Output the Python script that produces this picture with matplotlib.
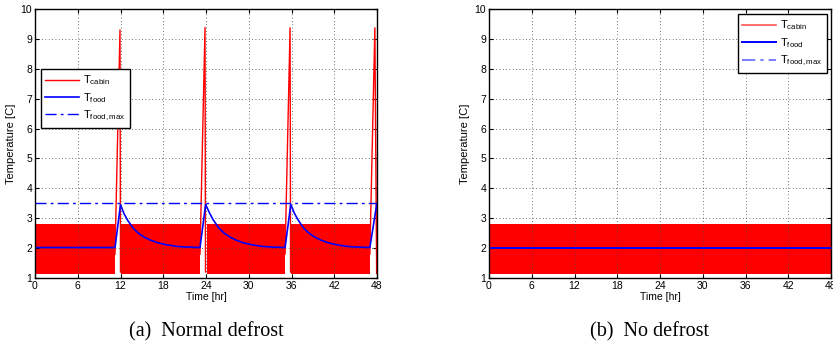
import numpy as np
import matplotlib
matplotlib.use('Agg')
import matplotlib.pyplot as plt

plt.rcParams['font.family'] = 'Liberation Sans'
plt.rcParams['mathtext.default'] = 'regular'

# cabin temperature: compressor cycling band (min/max) and defrost spikes
band_lo, band_hi = 1.15, 2.8
band_a_start = [0.0, 12.03, 24.1, 35.95]
band_a_end = [11.23, 23.16, 35.1, 47.0]
spike_t = [[11.23, 11.93, 12.0], [23.16, 23.86, 23.93], [35.1, 35.8, 35.87], [47.0, 47.7, 47.95]]
spike_T = [[1.8, 9.3, 1.2], [1.8, 9.38, 1.2], [1.8, 9.37, 1.2], [1.8, 9.37, 1.15]]

# food temperature, normal defrost
food_t = [0, 11.23, 12.0, 12.5, 13.0, 13.8, 14.5, 15.3, 16.2, 17.2, 18.5, 19.8, 20.9, 22.0, 23.16,
          23.95, 24.5, 25.0, 25.8, 26.5, 27.3, 28.2, 29.2, 30.5, 31.8, 32.9, 34.0, 35.1,
          35.9, 36.4, 36.9, 37.7, 38.4, 39.2, 40.1, 41.1, 42.4, 43.7, 44.8, 45.9, 47.0, 47.95]
food_T = [2.02, 2.02, 3.45, 3.15, 2.93, 2.66, 2.5, 2.37, 2.27, 2.18, 2.11, 2.06, 2.04, 2.03, 2.02,
          3.46, 3.17, 2.95, 2.67, 2.51, 2.38, 2.27, 2.18, 2.11, 2.06, 2.04, 2.03, 2.02,
          3.46, 3.17, 2.95, 2.67, 2.51, 2.38, 2.27, 2.18, 2.11, 2.06, 2.04, 2.03, 2.02, 3.45]
food_max = 3.5

# no defrost
band_b_start = [0.0]
band_b_end = [48.0]
food_b_t = [0, 48]
food_b_T = [2.02, 2.02]

fig = plt.figure(figsize=(8.33, 3.56), dpi=100)
ax1 = fig.add_axes([35/833, 1-278/356, 342/833, 269/356])
ax2 = fig.add_axes([489/833, 1-278/356, 342/833, 269/356])

for s, e in zip(band_a_start, band_a_end):
    ax1.fill_between([s, e], band_lo, band_hi, color='#ff0000', lw=0)
for t, T in zip(spike_t, spike_T):
    ax1.plot(t, T, color='#ff0000', lw=1)
ax1.plot([], [], color='#ff0000', lw=1, label=r'T$_{cabin}$')
ax1.plot(food_t, food_T, color='#0000ff', lw=1.2, label=r'T$_{food}$')
ax1.plot([0, 48], [food_max, food_max], color='#0000ff', lw=1, ls=(0, (8, 3, 2, 3)),
         label=r'T$_{food,max}$')

for s, e in zip(band_b_start, band_b_end):
    ax2.fill_between([s, e], band_lo, band_hi, color='#ff0000', lw=0)
ax2.plot([], [], color='#ff5555', lw=1.2, label=r'T$_{cabin}$')
ax2.plot(food_b_t, food_b_T, color='#0000ff', lw=1.4, label=r'T$_{food}$')
ax2.plot([], [], color='#6666ff', lw=1.2, ls=(0, (8, 3, 2, 3)), label=r'T$_{food,max}$')

for ax in (ax1, ax2):
    ax.set_xlim(0, 48)
    ax.set_ylim(1, 10)
    ax.set_xticks(range(0, 49, 6))
    ax.set_yticks(range(1, 11))
    ax.grid(True, ls=(0, (1, 3)), color='#444444', lw=0.6)
    ax.tick_params(direction='in', top=True, right=True, labelsize=7.5, length=3, pad=2)
    ax.set_xlabel('Time [hr]', fontsize=7.5, labelpad=1)
    ax.set_ylabel('Temperature [C]', fontsize=8, labelpad=3)
    for sp in ax.spines.values():
        sp.set_linewidth(1.0)

leg_kw = dict(fontsize=8, fancybox=False, edgecolor='black', framealpha=1,
              handlelength=3.0, handletextpad=0.4, borderpad=0.4, labelspacing=0.35,
              borderaxespad=0)
l1 = ax1.legend(loc='upper left', bbox_to_anchor=(0.017, 0.777), **leg_kw)
l2 = ax2.legend(loc='upper right', bbox_to_anchor=(0.988, 0.981), **leg_kw)
for l in (l1, l2):
    l.get_frame().set_linewidth(1.0)

fig.text(206/833, 1-332/356, '(a)  Normal defrost', ha='center', va='center',
         family='Liberation Serif', fontsize=14.5)
fig.text(650/833, 1-332/356, '(b)  No defrost', ha='center', va='center',
         family='Liberation Serif', fontsize=14.5)

fig.savefig('out.png', dpi=100)
